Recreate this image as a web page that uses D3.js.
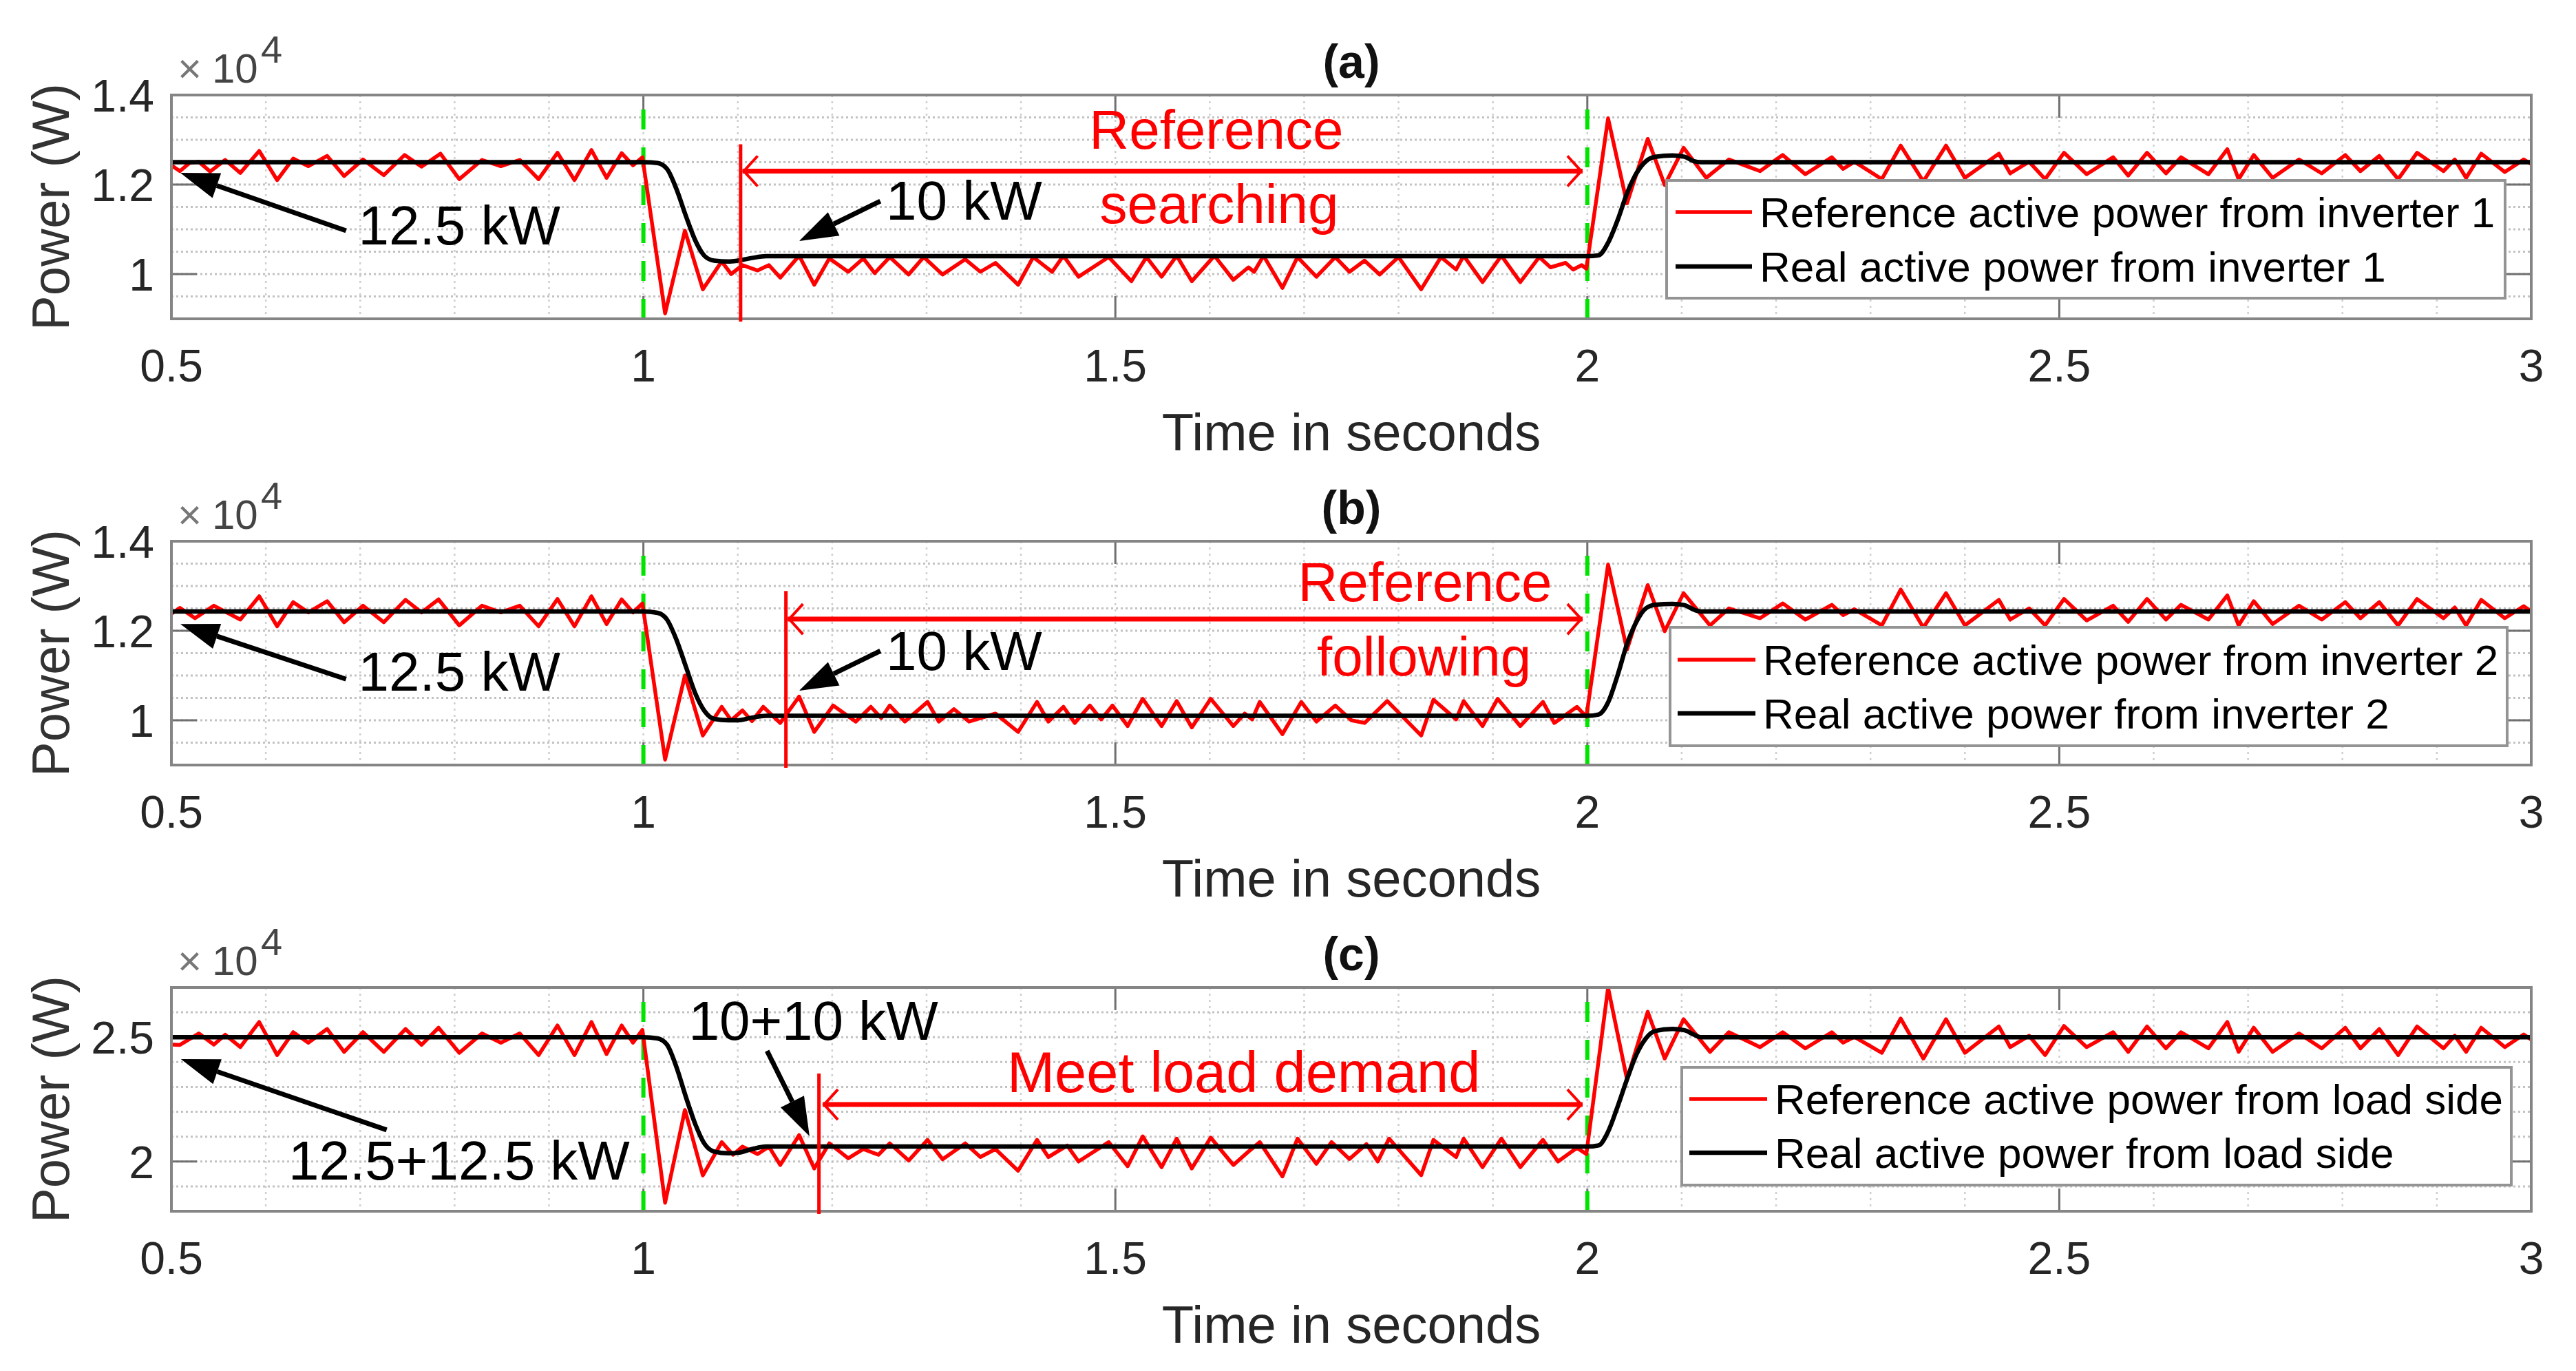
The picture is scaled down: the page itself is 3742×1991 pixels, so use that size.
<!DOCTYPE html>
<html><head><meta charset="utf-8">
<script src="https://cdn.jsdelivr.net/npm/d3@7"></script>
<style>body{margin:0;background:#fff}</style>
</head><body>
<svg id="chart" width="3742" height="1991"></svg>
<script>
// ---------------- DATA ----------------
const timeTicks = [0.5, 1, 1.5, 2, 2.5, 3];
const panelTitles = ["(a)", "(b)", "(c)"];
const yTicksInv = [1, 1.2, 1.4];
const yTicksLoad = [2, 2.5];
const xLabel = "Time in seconds";
const yLabel = "Power (W)";
const legendA = ["Reference active power from inverter 1", "Real active power from inverter 1"];
const legendB = ["Reference active power from inverter 2", "Real active power from inverter 2"];
const legendC = ["Reference active power from load side", "Real active power from load side"];
const eventTimes = [1, 2];

// reference (red) power, [time s, power x1e4 W]
const refA = [[0.500,1.243],[0.509,1.230],[0.519,1.248],[0.529,1.251],[0.541,1.229],[0.557,1.255],[0.573,1.226],[0.593,1.275],[0.612,1.210],[0.629,1.258],[0.645,1.241],[0.665,1.264],[0.683,1.219],[0.703,1.256],[0.725,1.221],[0.747,1.266],[0.765,1.240],[0.785,1.269],[0.805,1.212],[0.829,1.255],[0.849,1.241],[0.869,1.255],[0.889,1.212],[0.909,1.271],[0.927,1.210],[0.945,1.277],[0.961,1.215],[0.977,1.270],[0.989,1.243],[0.999,1.261],
[1.023,0.912],[1.044,1.097],[1.063,0.966],[1.083,1.028],[1.093,1.000],[1.105,1.020],[1.121,1.008],[1.133,1.020],
[1.145,0.992],[1.165,1.041],[1.181,0.976],[1.197,1.035],[1.217,1.005],[1.233,1.035],[1.245,1.002],[1.261,1.038],[1.281,0.999],[1.297,1.038],[1.317,0.999],[1.341,1.033],[1.357,1.005],[1.373,1.025],[1.397,0.976],[1.413,1.038],[1.433,1.005],[1.445,1.041],[1.461,0.994],[1.493,1.038],[1.517,0.984],[1.533,1.038],[1.549,0.994],[1.565,1.041],[1.581,0.984],[1.605,1.041],[1.625,0.987],[1.641,1.015],[1.647,1.005],[1.657,1.041],[1.677,0.969],[1.693,1.038],[1.713,0.994],[1.733,1.038],[1.748,1.005],[1.764,1.030],[1.780,0.999],[1.800,1.038],[1.824,0.966],[1.845,1.038],[1.861,1.010],[1.869,1.041],[1.889,0.982],[1.909,1.041],[1.929,0.982],[1.949,1.038],[1.961,1.015],[1.977,1.025],[1.985,1.010],[1.994,1.020],[1.999,1.012],
[2.022,1.348],[2.042,1.158],[2.064,1.302],[2.082,1.199],[2.102,1.282],[2.126,1.215],[2.150,1.256],[2.183,1.230],[2.207,1.266],[2.231,1.223],[2.259,1.261],[2.271,1.235],[2.283,1.251],[2.312,1.212],[2.332,1.287],[2.356,1.207],[2.380,1.287],[2.400,1.215],[2.436,1.269],[2.448,1.225],[2.468,1.251],[2.485,1.212],[2.505,1.271],[2.529,1.223],[2.557,1.261],[2.573,1.220],[2.593,1.271],[2.613,1.225],[2.629,1.261],[2.658,1.223],[2.678,1.279],[2.690,1.212],[2.706,1.266],[2.726,1.215],[2.754,1.256],[2.778,1.225],[2.803,1.266],[2.819,1.230],[2.839,1.264],[2.859,1.212],[2.879,1.271],[2.907,1.230],[2.919,1.256],[2.931,1.215],[2.947,1.269],[2.972,1.228],[2.992,1.256],[3.000,1.246]];

const realA = [[0.5,1.25],[1.0,1.25],[1.015,1.248],[1.025,1.235],[1.035,1.19],[1.045,1.13],[1.055,1.075],[1.065,1.04],[1.075,1.03],[1.09,1.028],[1.10,1.03],[1.115,1.036],[1.13,1.04],[2.0,1.04],[2.012,1.042],[2.022,1.07],[2.032,1.12],[2.042,1.18],[2.052,1.225],[2.062,1.252],[2.072,1.262],[2.09,1.265],[2.103,1.262],[2.113,1.252],[2.12,1.25],[3.0,1.25]];

const refB = [[0.500,1.238],[0.509,1.251],[0.525,1.228],[0.545,1.256],[0.573,1.225],[0.593,1.277],[0.612,1.210],[0.629,1.264],[0.645,1.241],[0.665,1.266],[0.683,1.219],[0.703,1.256],[0.725,1.219],[0.748,1.269],[0.765,1.241],[0.783,1.270],[0.805,1.212],[0.829,1.256],[0.849,1.241],[0.869,1.256],[0.889,1.210],[0.909,1.271],[0.927,1.210],[0.945,1.277],[0.961,1.215],[0.977,1.270],[0.989,1.241],[0.999,1.261],
[1.023,0.912],[1.044,1.100],[1.063,0.966],[1.083,1.030],[1.093,1.000],[1.105,1.022],[1.115,0.998],[1.127,1.030],
[1.145,0.994],[1.165,1.053],[1.181,0.974],[1.201,1.033],[1.225,0.997],[1.241,1.030],[1.252,1.005],[1.261,1.033],[1.277,0.997],[1.301,1.041],[1.313,0.997],[1.329,1.025],[1.345,0.997],[1.373,1.015],[1.397,0.974],[1.417,1.041],[1.429,0.997],[1.445,1.030],[1.457,0.994],[1.473,1.033],[1.485,1.002],[1.497,1.033],[1.513,0.987],[1.529,1.048],[1.549,0.987],[1.565,1.043],[1.581,0.984],[1.601,1.048],[1.625,0.987],[1.637,1.015],[1.645,1.002],[1.653,1.041],[1.677,0.969],[1.697,1.041],[1.713,0.997],[1.733,1.033],[1.750,1.000],[1.764,0.994],[1.788,1.043],[1.824,0.966],[1.837,1.046],[1.861,1.002],[1.869,1.043],[1.889,0.987],[1.905,1.048],[1.929,0.987],[1.953,1.041],[1.965,0.994],[1.989,1.030],[1.999,1.008],
[2.022,1.348],[2.042,1.158],[2.064,1.302],[2.082,1.199],[2.102,1.284],[2.130,1.212],[2.150,1.250],[2.183,1.228],[2.207,1.261],[2.231,1.225],[2.259,1.258],[2.271,1.235],[2.283,1.248],[2.312,1.212],[2.332,1.292],[2.356,1.207],[2.380,1.284],[2.400,1.212],[2.436,1.269],[2.448,1.225],[2.468,1.250],[2.485,1.212],[2.505,1.271],[2.529,1.223],[2.557,1.256],[2.573,1.220],[2.593,1.271],[2.613,1.225],[2.629,1.258],[2.658,1.225],[2.678,1.279],[2.690,1.212],[2.706,1.266],[2.726,1.215],[2.754,1.256],[2.778,1.225],[2.803,1.264],[2.819,1.228],[2.839,1.264],[2.859,1.212],[2.879,1.271],[2.907,1.228],[2.919,1.252],[2.931,1.212],[2.947,1.269],[2.972,1.228],[2.992,1.255],[3.000,1.243]];

const realB = [[0.5,1.243],[1.0,1.243],[1.015,1.24],[1.025,1.225],[1.035,1.18],[1.045,1.12],[1.055,1.06],[1.065,1.02],[1.075,1.003],[1.09,1.0],[1.10,1.0],[1.115,1.006],[1.13,1.01],[2.0,1.01],[2.012,1.013],[2.022,1.04],[2.032,1.10],[2.042,1.17],[2.052,1.22],[2.062,1.25],[2.072,1.258],[2.09,1.26],[2.103,1.257],[2.113,1.247],[2.12,1.243],[3.0,1.243]];

const refC = [[0.500,2.470],[0.509,2.469],[0.529,2.515],[0.545,2.470],[0.557,2.510],[0.573,2.460],[0.593,2.561],[0.612,2.428],[0.629,2.520],[0.645,2.478],[0.665,2.533],[0.683,2.441],[0.703,2.520],[0.725,2.441],[0.748,2.533],[0.765,2.469],[0.783,2.538],[0.805,2.437],[0.829,2.515],[0.849,2.478],[0.869,2.515],[0.889,2.428],[0.909,2.547],[0.927,2.428],[0.945,2.561],[0.961,2.432],[0.977,2.547],[0.989,2.478],[0.999,2.529],
[1.023,1.834],[1.044,2.207],[1.063,1.944],[1.083,2.078],[1.095,2.027],[1.105,2.060],[1.121,2.030],[1.133,2.060],
[1.145,1.986],[1.165,2.106],[1.181,1.972],[1.197,2.073],[1.217,2.013],[1.233,2.050],[1.249,2.027],[1.261,2.073],[1.281,2.004],[1.301,2.087],[1.317,2.009],[1.341,2.073],[1.357,2.018],[1.373,2.050],[1.397,1.963],[1.417,2.087],[1.429,2.018],[1.449,2.064],[1.461,2.000],[1.493,2.078],[1.513,1.981],[1.529,2.101],[1.549,1.977],[1.565,2.092],[1.581,1.972],[1.601,2.096],[1.625,1.986],[1.641,2.040],[1.653,2.078],[1.677,1.940],[1.693,2.092],[1.713,1.991],[1.729,2.078],[1.748,2.010],[1.766,2.070],[1.778,2.000],[1.790,2.092],[1.824,1.945],[1.837,2.087],[1.861,2.018],[1.869,2.092],[1.889,1.977],[1.909,2.092],[1.929,1.977],[1.953,2.087],[1.969,2.000],[1.989,2.055],[1.999,2.030],
[2.022,2.699],[2.042,2.331],[2.064,2.602],[2.082,2.414],[2.102,2.572],[2.130,2.441],[2.150,2.520],[2.183,2.460],[2.207,2.520],[2.231,2.455],[2.259,2.520],[2.271,2.478],[2.283,2.501],[2.312,2.437],[2.332,2.575],[2.356,2.414],[2.380,2.572],[2.400,2.437],[2.436,2.543],[2.448,2.460],[2.468,2.506],[2.485,2.428],[2.505,2.545],[2.529,2.460],[2.557,2.520],[2.573,2.441],[2.593,2.543],[2.613,2.455],[2.629,2.520],[2.658,2.455],[2.678,2.561],[2.690,2.441],[2.706,2.538],[2.726,2.441],[2.754,2.515],[2.778,2.455],[2.803,2.538],[2.819,2.455],[2.839,2.533],[2.859,2.428],[2.879,2.543],[2.907,2.455],[2.919,2.506],[2.931,2.441],[2.947,2.538],[2.972,2.460],[2.992,2.511],[3.000,2.490]];

const realC = [[0.5,2.5],[1.0,2.5],[1.015,2.495],[1.025,2.47],[1.035,2.38],[1.045,2.26],[1.055,2.15],[1.065,2.07],[1.075,2.04],[1.09,2.033],[1.10,2.035],[1.115,2.05],[1.13,2.06],[2.0,2.06],[2.012,2.065],[2.022,2.12],[2.032,2.22],[2.042,2.33],[2.052,2.43],[2.062,2.495],[2.072,2.525],[2.09,2.533],[2.103,2.528],[2.113,2.51],[2.12,2.5],[3.0,2.5]];

// annotations (data coordinates)
const notesA = [{text:"12.5 kW", t:0.698, v:1.066, anchor:"start", red:false},
                {text:"10 kW", t:1.257, v:1.122, anchor:"start", red:false},
                {text:"Reference", t:1.607, v:1.280, anchor:"middle", red:true},
                {text:"searching", t:1.610, v:1.114, anchor:"middle", red:true}];
const notesB = [{text:"12.5 kW", t:0.698, v:1.066, anchor:"start", red:false},
                {text:"10 kW", t:1.257, v:1.112, anchor:"start", red:false},
                {text:"Reference", t:1.828, v:1.266, anchor:"middle", red:true},
                {text:"following", t:1.827, v:1.100, anchor:"middle", red:true}];
const notesC = [{text:"10+10 kW", t:1.048, v:2.490, anchor:"start", red:false},
                {text:"12.5+12.5 kW", t:0.624, v:1.927, anchor:"start", red:false},
                {text:"Meet load demand", t:1.636, v:2.279, anchor:"middle", red:true}];
const arrowsA = [{from:[0.685,1.097], to:[0.5095,1.226]}, {from:[1.251,1.163], to:[1.165,1.074]}];
const arrowsB = [{from:[0.685,1.092], to:[0.5095,1.215]}, {from:[1.251,1.155], to:[1.165,1.066]}];
const arrowsC = [{from:[0.728,2.127], to:[0.510,2.412]}, {from:[1.131,2.445], to:[1.176,2.102]}];
const spanA = {t:1.103, top:1.290, v:1.230, t0:1.105, t1:1.995};
const spanB = {t:1.151, top:1.289, v:1.226, t0:1.153, t1:1.995};
const spanC = {t:1.186, top:2.354, v:2.229, t0:1.190, t1:1.995};

// ---------------- LAYOUT / STYLE ----------------
const W = 3742, H = 1991;
const X0 = 249, X1 = 3677, PH = 325;
const FONT = "'Liberation Sans', Arial, Helvetica, sans-serif";
const RED = "#ff0000", GREEN = "#00e400", AXIS = "#858585";

const panels = [
  {title:panelTitles[0], top:138, domain:[0.9,1.4], ticks:yTicksInv, minor:0.05, ref:refA, real:realA, legendText:legendA, notes:notesA, arrows:arrowsA, span:spanA,
   legend:{x:2421, y:262, w:1218, h:171, l0:2434, l1:2545, rows:[308,387], tx:2556}},
  {title:panelTitles[1], top:786, domain:[0.9,1.4], ticks:yTicksInv, minor:0.05, ref:refB, real:realB, legendText:legendB, notes:notesB, arrows:arrowsB, span:spanB,
   legend:{x:2426, y:911, w:1216, h:172, l0:2437, l1:2550, rows:[958,1036], tx:2561}},
  {title:panelTitles[2], top:1434, domain:[1.8,2.7], ticks:yTicksLoad, minor:0.1, ref:refC, real:realC, legendText:legendC, notes:notesC, arrows:arrowsC, span:spanC,
   legend:{x:2443, y:1550, w:1205, h:171, l0:2454, l1:2567, rows:[1596,1674], tx:2578}}
];

const svg = d3.select("#chart");
svg.append("rect").attr("width", W).attr("height", H).attr("fill", "#fff");
const defs = svg.append("defs");

const x = d3.scaleLinear().domain([0.5, 3]).range([X0, X1]);

panels.forEach((p, i) => {
  const top = p.top, bot = top + PH;
  const y = d3.scaleLinear().domain(p.domain).range([bot, top]);
  const g = svg.append("g");
  const clipId = "clip" + i;
  defs.append("clipPath").attr("id", clipId).append("rect")
    .attr("x", X0).attr("y", top).attr("width", X1 - X0).attr("height", PH);

  // minor grid
  const vGrid = d3.range(6, 30).map(k => k / 10);
  g.append("g").selectAll("line").data(vGrid).join("line")
    .attr("x1", d => x(d)).attr("x2", d => x(d)).attr("y1", top).attr("y2", bot)
    .attr("stroke", "#cfcfcf").attr("stroke-width", 2.5).attr("stroke-dasharray", "3,6");
  const nH = Math.round((p.domain[1] - p.domain[0]) / p.minor);
  const hGrid = d3.range(1, nH).map(k => p.domain[0] + k * p.minor);
  g.append("g").selectAll("line").data(hGrid).join("line")
    .attr("x1", X0).attr("x2", X1).attr("y1", d => y(d)).attr("y2", d => y(d))
    .attr("stroke", "#c2c2c2").attr("stroke-width", 3).attr("stroke-dasharray", "3,4");

  // ticks (inward, all four sides)
  const tk = g.append("g").attr("stroke", "#707070").attr("stroke-width", 3);
  timeTicks.forEach(t => {
    tk.append("line").attr("x1", x(t)).attr("x2", x(t)).attr("y1", bot).attr("y2", bot - 33);
    tk.append("line").attr("x1", x(t)).attr("x2", x(t)).attr("y1", top).attr("y2", top + 33);
  });
  p.ticks.forEach(v => {
    tk.append("line").attr("x1", X0).attr("x2", X0 + 37).attr("y1", y(v)).attr("y2", y(v));
    tk.append("line").attr("x1", X1).attr("x2", X1 - 37).attr("y1", y(v)).attr("y2", y(v));
  });

  // green dashed event lines (dash pattern starts at bottom)
  g.append("g").selectAll("line").data(eventTimes).join("line")
    .attr("x1", d => x(d)).attr("x2", d => x(d)).attr("y1", bot).attr("y2", top)
    .attr("stroke", GREEN).attr("stroke-width", 6).attr("stroke-dasharray", "29,26");

  // series
  const lineRef = d3.line().x(d => x(d[0])).y(d => y(d[1]));
  const lineReal = d3.line().x(d => x(d[0])).y(d => y(d[1])).curve(d3.curveMonotoneX);
  const series = g.append("g").attr("clip-path", `url(#${clipId})`);
  series.append("path").datum(p.ref).attr("d", lineRef).attr("fill", "none")
    .attr("stroke", RED).attr("stroke-width", 5.5).attr("stroke-linejoin", "round");
  series.append("path").datum(p.real).attr("d", lineReal).attr("fill", "none")
    .attr("stroke", "#000").attr("stroke-width", 6.5).attr("stroke-linejoin", "round");

  // axes box
  g.append("rect").attr("x", X0).attr("y", top).attr("width", X1 - X0).attr("height", PH)
    .attr("fill", "none").attr("stroke", AXIS).attr("stroke-width", 4);

  // red span marker: vertical line + double arrow
  const s = p.span;
  const an = g.append("g").attr("stroke", RED).attr("fill", "none");
  an.append("line").attr("x1", x(s.t)).attr("x2", x(s.t)).attr("y1", y(s.top)).attr("y2", bot + 4).attr("stroke-width", 5);
  const ay = y(s.v), ax0 = x(s.t0), ax1 = x(s.t1);
  an.append("line").attr("x1", ax0).attr("x2", ax1).attr("y1", ay).attr("y2", ay).attr("stroke-width", 7);
  an.append("path").attr("d", `M${ax0 + 22},${ay - 22}L${ax0 + 2},${ay}L${ax0 + 22},${ay + 22}`).attr("stroke-width", 4);
  an.append("path").attr("d", `M${ax1 - 22},${ay - 22}L${ax1 - 2},${ay}L${ax1 - 22},${ay + 22}`).attr("stroke-width", 4);

  // black arrows with filled heads
  p.arrows.forEach(a => {
    const fx = x(a.from[0]), fy = y(a.from[1]), tx = x(a.to[0]), ty = y(a.to[1]);
    const dx = tx - fx, dy = ty - fy, len = Math.hypot(dx, dy);
    const ux = dx / len, uy = dy / len, L = 56, hw = 19;
    const bx = tx - ux * L, by = ty - uy * L;
    g.append("line").attr("x1", fx).attr("y1", fy).attr("x2", bx).attr("y2", by)
      .attr("stroke", "#000").attr("stroke-width", 7);
    g.append("path").attr("d", `M${tx},${ty}L${bx - uy * hw},${by + ux * hw}L${bx + uy * hw},${by - ux * hw}Z`)
      .attr("fill", "#000");
  });

  // annotation texts
  p.notes.forEach(n => {
    g.append("text").attr("x", x(n.t)).attr("y", y(n.v)).attr("text-anchor", n.anchor)
      .attr("font-family", FONT).attr("font-size", n.text === "Meet load demand" ? 83 : 80)
      .attr("fill", n.red ? RED : "#000").text(n.text);
  });

  // legend
  const L = p.legend;
  const lg = g.append("g");
  lg.append("rect").attr("x", L.x).attr("y", L.y).attr("width", L.w).attr("height", L.h)
    .attr("fill", "#fff").attr("stroke", "#949494").attr("stroke-width", 4);
  [RED, "#000"].forEach((c, k) => {
    lg.append("line").attr("x1", L.l0).attr("x2", L.l1).attr("y1", L.rows[k]).attr("y2", L.rows[k])
      .attr("stroke", c).attr("stroke-width", k === 0 ? 5.5 : 6.5);
    lg.append("text").attr("x", L.tx).attr("y", L.rows[k] + 22).attr("font-family", FONT)
      .attr("font-size", 62).attr("fill", "#000").text(p.legendText[k]);
  });

  // tick labels
  const tl = g.append("g").attr("font-family", FONT).attr("font-size", 66).attr("fill", "#262626");
  timeTicks.forEach(t => tl.append("text").attr("x", x(t)).attr("y", bot + 91).attr("text-anchor", "middle").text(t));
  p.ticks.forEach(v => tl.append("text").attr("x", 224).attr("y", y(v) + 24).attr("text-anchor", "end").text(v));

  // exponent
  const ex = g.append("g").attr("font-family", FONT);
  ex.append("text").attr("x", 258).attr("y", top - 18).attr("font-size", 60).attr("fill", "#777").text("\u00d7");
  ex.append("text").attr("x", 308).attr("y", top - 18).attr("font-size", 60).attr("fill", "#444").text("10");
  ex.append("text").attr("x", 379).attr("y", top - 47).attr("font-size", 56).attr("fill", "#444").text("4");

  // axis labels and title
  g.append("text").attr("x", (X0 + X1) / 2).attr("y", bot + 191).attr("text-anchor", "middle")
    .attr("font-family", FONT).attr("font-size", 76).attr("fill", "#262626").text(xLabel);
  g.append("text").attr("transform", `translate(100,${top + PH / 2}) rotate(-90)`).attr("text-anchor", "middle")
    .attr("font-family", FONT).attr("font-size", 76).attr("fill", "#333").text(yLabel);
  g.append("text").attr("x", (X0 + X1) / 2).attr("y", top - 25).attr("text-anchor", "middle")
    .attr("font-family", FONT).attr("font-size", 68).attr("font-weight", "bold").attr("fill", "#111").text(p.title);
});
</script>
</body></html>
